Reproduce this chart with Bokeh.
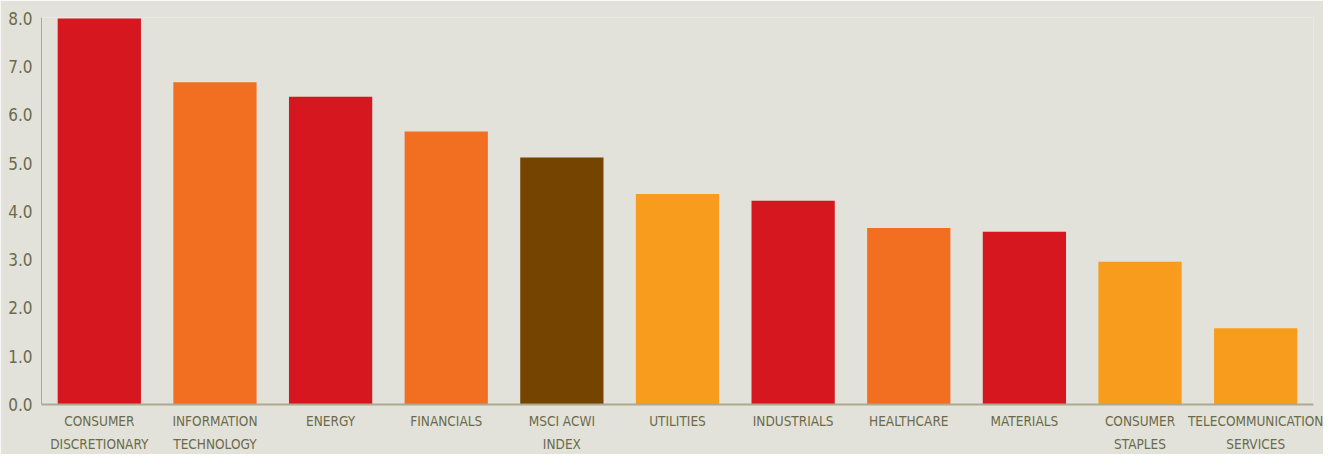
from bokeh.plotting import figure
from bokeh.models import FactorRange, Range1d, FixedTicker, NumeralTickFormatter
from bokeh.embed import file_html
from bokeh.resources import INLINE

categories = [
    "CONSUMER\nDISCRETIONARY",
    "INFORMATION\nTECHNOLOGY",
    "ENERGY",
    "FINANCIALS",
    "MSCI ACWI\nINDEX",
    "UTILITIES",
    "INDUSTRIALS",
    "HEALTHCARE",
    "MATERIALS",
    "CONSUMER\nSTAPLES",
    "TELECOMMUNICATION\nSERVICES",
]
values = [8.0, 6.68, 6.38, 5.66, 5.12, 4.36, 4.22, 3.66, 3.58, 2.96, 1.58]
colors = ["#d7171f", "#f26f21", "#d7171f", "#f26f21", "#744400", "#f79c1d",
          "#d7171f", "#f26f21", "#d7171f", "#f79c1d", "#f79c1d"]
y_ticks = [0, 1, 2, 3, 4, 5, 6, 7, 8]

bg = "#e2e2da"
txt = "#6b6a4b"
axis_col = "#abaa8f"
font = "DejaVu Sans Condensed"

p = figure(
    x_range=FactorRange(*categories, range_padding=0),
    y_range=Range1d(0, 8.02),
    width=1323, height=454,
    min_border_left=41, min_border_right=10, min_border_top=17, min_border_bottom=49,
    output_backend="svg", toolbar_location=None,
    background_fill_color=bg, border_fill_color=bg,
)
p.outline_line_color = None
p.vbar(x=categories, top=values, width=0.72, color=colors, line_color=None)

p.xgrid.visible = False
p.ygrid.visible = False

p.yaxis.ticker = FixedTicker(ticks=y_ticks)
p.yaxis.formatter = NumeralTickFormatter(format="0.0")
p.yaxis.major_tick_line_color = None
p.yaxis.major_tick_out = 0
p.yaxis.major_tick_in = 0
p.yaxis.minor_tick_line_color = None
p.yaxis.minor_tick_out = 0
p.yaxis.axis_line_color = axis_col
p.yaxis.axis_line_width = 1
p.yaxis.major_label_text_font = font
p.yaxis.major_label_text_font_size = "17px"
p.yaxis.major_label_text_color = txt
p.yaxis.major_label_standoff = 9

p.xaxis.major_tick_line_color = None
p.xaxis.major_tick_out = 0
p.xaxis.major_tick_in = 0
p.xaxis.axis_line_color = axis_col
p.xaxis.axis_line_width = 2
p.xaxis.major_label_text_font = font
p.xaxis.major_label_text_font_size = "13.5px"
p.xaxis.major_label_text_color = txt
p.xaxis.major_label_standoff = 8
p.xaxis.major_label_text_line_height = 1.45

open("out.html", "w").write(file_html(p, INLINE))
